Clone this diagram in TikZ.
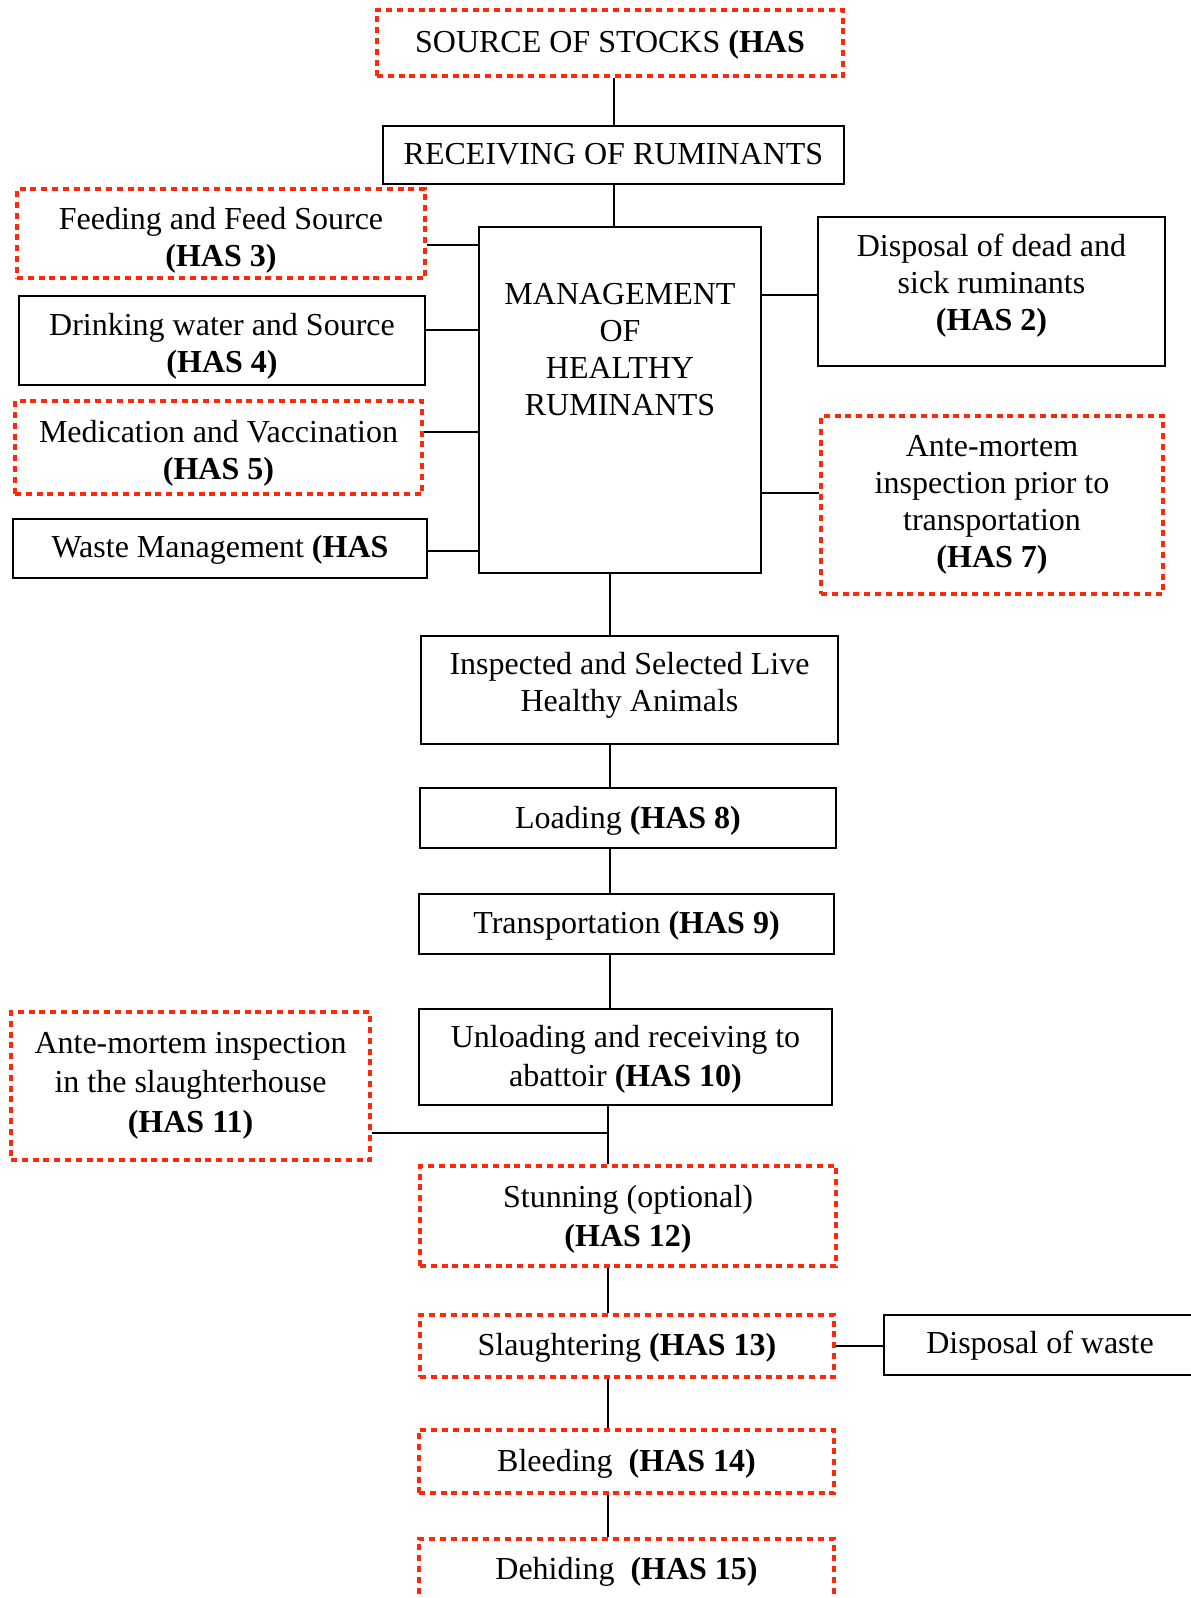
\documentclass[tikz,border=0pt]{standalone}
\usepackage{fontspec}
\setmainfont{Liberation Serif}
\usetikzlibrary{calc}

\definecolor{hasred}{RGB}{255,40,10}

% text of a box, lowered by #1 without changing the box
\newcommand{\boxtxt}[2][1.5pt]{\raisebox{-#1}[\height][\depth]{\begin{tabular}{@{}c@{}}#2\end{tabular}}}

\tikzset{
  box/.style={draw, line width=1pt, inner sep=0pt, align=center,
    font=\fontsize{16}{18.5}\selectfont},
  hasbox/.style={box, draw=hasred, line width=2pt, dash pattern=on 3pt off 2.4pt},
  wide/.style={font=\fontsize{16}{19.7}\selectfont},
  link/.style={line width=1pt},
}

\begin{document}
\begin{tikzpicture}[x=0.5pt, y=-0.5pt]
\useasboundingbox (0,0) rectangle (1190,1598);

% spine of the main chain
\coordinate (spineA) at (614,0);
\coordinate (spineB) at (610,0);
\coordinate (spineC) at (608,0);

\node[hasbox, minimum width=233pt, minimum height=33pt] (source) at (610,43) {\boxtxt[1pt]{SOURCE OF STOCKS \textbf{(HAS}}};
\node[box, minimum width=230.5pt, minimum height=29pt] (receive) at (613.5,155) {\boxtxt[1pt]{RECEIVING OF RUMINANTS}};

% management block and its side boxes
\node[box, minimum width=141pt, minimum height=173pt,
  label={[anchor=north, yshift=-28.5pt, align=center, inner sep=0pt,
    font=\fontsize{16}{18.5}\selectfont]north:MANAGEMENT\\OF\\HEALTHY\\RUMINANTS}] (mgmt) at (620,400) {};
\node[hasbox, minimum width=204pt, minimum height=44.5pt] (feed) at (221,233.5) {\boxtxt[3.5pt]{Feeding and Feed Source\\\textbf{(HAS 3)}}};
\node[box, minimum width=203pt, minimum height=44.5pt] (drink) at (222,340.5) {\boxtxt[3pt]{Drinking water and Source\\\textbf{(HAS 4)}}};
\node[hasbox, minimum width=203.5pt, minimum height=46.5pt] (medic) at (218.5,447.5) {\boxtxt[3pt]{Medication and Vaccination\\\textbf{(HAS 5)}}};
\node[box, minimum width=207pt, minimum height=29.5pt] (waste) at (220,548.5) {\boxtxt[1pt]{Waste Management \textbf{(HAS}}};
\node[box, minimum width=173.5pt, minimum height=74.5pt] (dispdead) at (991.5,291.5) {\boxtxt[-2.5pt]{Disposal of dead and\\sick ruminants\\\textbf{(HAS 2)}}};
\node[hasbox, minimum width=171pt, minimum height=89pt] (antetrans) at (992,505) {\boxtxt[0pt]{Ante-mortem\\inspection prior to\\transportation\\\textbf{(HAS 7)}}};

% transport chain
\node[box, minimum width=208.5pt, minimum height=54pt] (inspect) at (629.5,690) {\boxtxt[-2pt]{Inspected and Selected Live\\Healthy Animals}};
\node[box, minimum width=208pt, minimum height=30pt] (load) at (628,818) {\boxtxt{Loading \textbf{(HAS 8)}}};
\node[box, minimum width=207.5pt, minimum height=30pt] (transp) at (626.5,924) {\boxtxt[1pt]{Transportation \textbf{(HAS 9)}}};
\node[box, wide, minimum width=206.5pt, minimum height=48pt] (unload) at (625.5,1057) {\boxtxt[1pt]{Unloading and receiving to\\abattoir \textbf{(HAS 10)}}};
\node[hasbox, wide, minimum width=179.5pt, minimum height=74pt] (antesl) at (190.5,1086) {\boxtxt[-0.5pt]{Ante-mortem inspection\\in the slaughterhouse\\\textbf{(HAS 11)}}};

% slaughter line
\node[hasbox, wide, minimum width=208pt, minimum height=50pt] (stun) at (628,1216) {\boxtxt{Stunning (optional)\\\textbf{(HAS 12)}}};
\node[hasbox, minimum width=207pt, minimum height=31pt] (slaught) at (627,1346) {\boxtxt[1pt]{Slaughtering \textbf{(HAS 13)}}};
\node[box, minimum width=156pt, minimum height=30pt] (dispwaste) at (1040,1345) {\boxtxt[0.5pt]{Disposal of waste}};
\node[hasbox, minimum width=207.5pt, minimum height=31.5pt] (bleed) at (626.5,1461.5) {\boxtxt{Bleeding\ \ \textbf{(HAS 14)}}};
\node[hasbox, minimum width=207.5pt, minimum height=30.5pt] (dehide) at (626.5,1569.5) {\boxtxt{Dehiding\ \ \textbf{(HAS 15)}}};

% connectors
\draw[link] (source.south -| spineA) -- (receive.north -| spineA);
\draw[link] (receive.south -| spineA) -- (mgmt.north -| spineA);
\draw[link] (mgmt.south -| spineB) -- (inspect.north -| spineB);
\draw[link] (inspect.south -| spineB) -- (load.north -| spineB);
\draw[link] (load.south -| spineB) -- (transp.north -| spineB);
\draw[link] (transp.south -| spineB) -- (unload.north -| spineB);
\draw[link] (unload.south -| spineC) -- (stun.north -| spineC);
\draw[link] (stun.south -| spineC) -- (slaught.north -| spineC);
\draw[link] (slaught.south -| spineC) -- (bleed.north -| spineC);
\draw[link] (bleed.south -| spineC) -- (dehide.north -| spineC);

\draw[link] (feed.east) ++(0,11.5) coordinate (f) -- (f -| mgmt.west);
\draw[link] (drink.east) ++(0,-10.5) coordinate (d) -- (d -| mgmt.west);
\draw[link] (medic.east) ++(0,-15.5) coordinate (m) -- (m -| mgmt.west);
\draw[link] (waste.east) ++(0,2.5) coordinate (w) -- (w -| mgmt.west);
\draw[link] (mgmt.east) ++(0,-105) coordinate (r1) -- (r1 -| dispdead.west);
\draw[link] (mgmt.east) ++(0,93) coordinate (r2) -- (r2 -| antetrans.west);
\draw[link] (antesl.east) ++(0,47) coordinate (a) -- (a -| spineC);
\draw[link] (slaught.east) -- (slaught.east -| dispwaste.west);
\end{tikzpicture}
\end{document}
